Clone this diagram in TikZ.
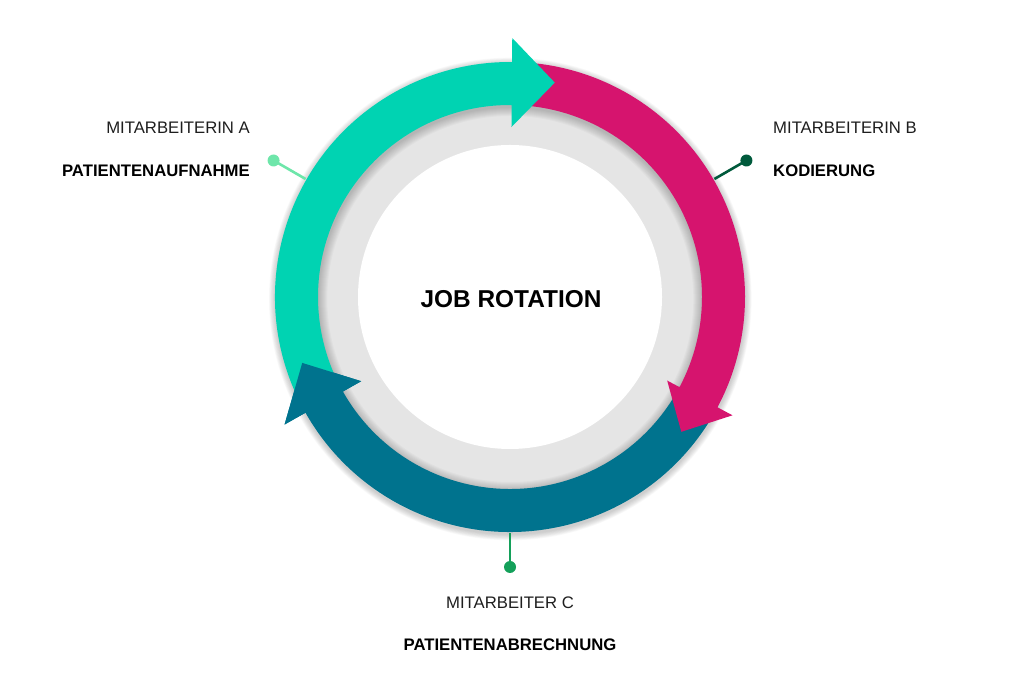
\documentclass[tikz,border=0pt]{standalone}
\usepackage{fontspec}
\setmainfont{Liberation Sans}
\definecolor{cteal}{RGB}{0,211,178}
\definecolor{cmag}{RGB}{214,20,110}
\definecolor{cblue}{RGB}{0,115,142}
\definecolor{cring}{RGB}{229,229,229}
\definecolor{pinA}{RGB}{110,230,170}
\definecolor{pinB}{RGB}{0,90,60}
\definecolor{pinC}{RGB}{20,160,90}
\definecolor{ctext}{RGB}{30,30,30}
\tikzset{
  pindot/.style={circle,inner sep=0pt,minimum size=12pt},
  pinline/.style={line width=2.6pt},
  lbl/.style={font=\fontsize{16.7}{20}\selectfont,text=ctext,inner sep=0pt},
  lblb/.style={font=\fontsize{16.7}{20}\selectfont\bfseries,text=black,inner sep=0pt},
  softshadow/.style={fill=black,fill opacity=0.022,even odd rule},
}
\def\tealpath{(207:235) arc[start angle=207,end angle=89.5,radius=235] -- (89.5:259) -- (78.2:219) -- (89.5:170) -- (89.5:192) arc[start angle=89.5,end angle=207,radius=192] -- cycle}
\def\magpath{(87:235) arc[start angle=87,end angle=-28,radius=235] -- (-28:252) -- (-38.2:218) -- (-28:178) -- (-28:192) arc[start angle=-28,end angle=87,radius=192] -- cycle}
\def\bluepath{(-30:235) arc[start angle=-30,end angle=-150.5,radius=235] -- (209.5:259) -- (197.6:218) -- (209.5:171) -- (209.5:192) arc[start angle=-150.5,end angle=-30,radius=192] -- cycle}
\begin{document}
\begin{tikzpicture}[x=1pt,y=1pt]
\useasboundingbox (0,0) rectangle (1024,687);
\begin{scope}[shift={(510,390)}]
  \coordinate (c) at (0,0);
  % gray ring
  \fill[cring] (0,0) circle[radius=200];
  \fill[white] (0,0) circle[radius=152];
  % soft shadow of the arrow band
  \foreach \k in {1,...,9}{
    \path[softshadow] (0.3,-2) circle[radius=235+0.7*\k] (0.3,-2) circle[radius=192-\k];
  }
  % arrows
  \fill[cblue] \bluepath;
  \fill[cmag] \magpath;
  \fill[cteal] \tealpath;
  \fill[cblue] (209.5:259) -- (197.6:218) -- (209.5:171) -- cycle;
  % pins
  \node[pindot,fill=pinA] (pa) at (150:273) {};
  \coordinate (ra) at (150:236);
  \draw[pinline,pinA] (pa.center) -- (ra);
  \node[pindot,fill=pinB] (pb) at (30:273) {};
  \coordinate (rb) at (30:236);
  \draw[pinline,pinB] (pb.center) -- (rb);
  \node[pindot,fill=pinC] (pc) at (270:270) {};
  \coordinate (rc) at (270:236);
  \draw[pinline,pinC] (pc.center) -- (rc);
\end{scope}
\node[font=\fontsize{24.4}{28}\selectfont\bfseries,inner sep=0pt] (title) at (511,388) {JOB ROTATION};
\node[lbl,anchor=base east] (a1) at (250,553) {MITARBEITERIN A};
\node[lblb,anchor=base east] (a2) at (250,510) {PATIENTENAUFNAHME};
\node[lbl,anchor=base west] (b1) at (773,553) {MITARBEITERIN B};
\node[lblb,anchor=base west] (b2) at (773,510) {KODIERUNG};
\node[lbl,anchor=base] (c1) at (510,78) {MITARBEITER C};
\node[lblb,anchor=base] (c2) at (510,36) {PATIENTENABRECHNUNG};
\end{tikzpicture}
\end{document}
